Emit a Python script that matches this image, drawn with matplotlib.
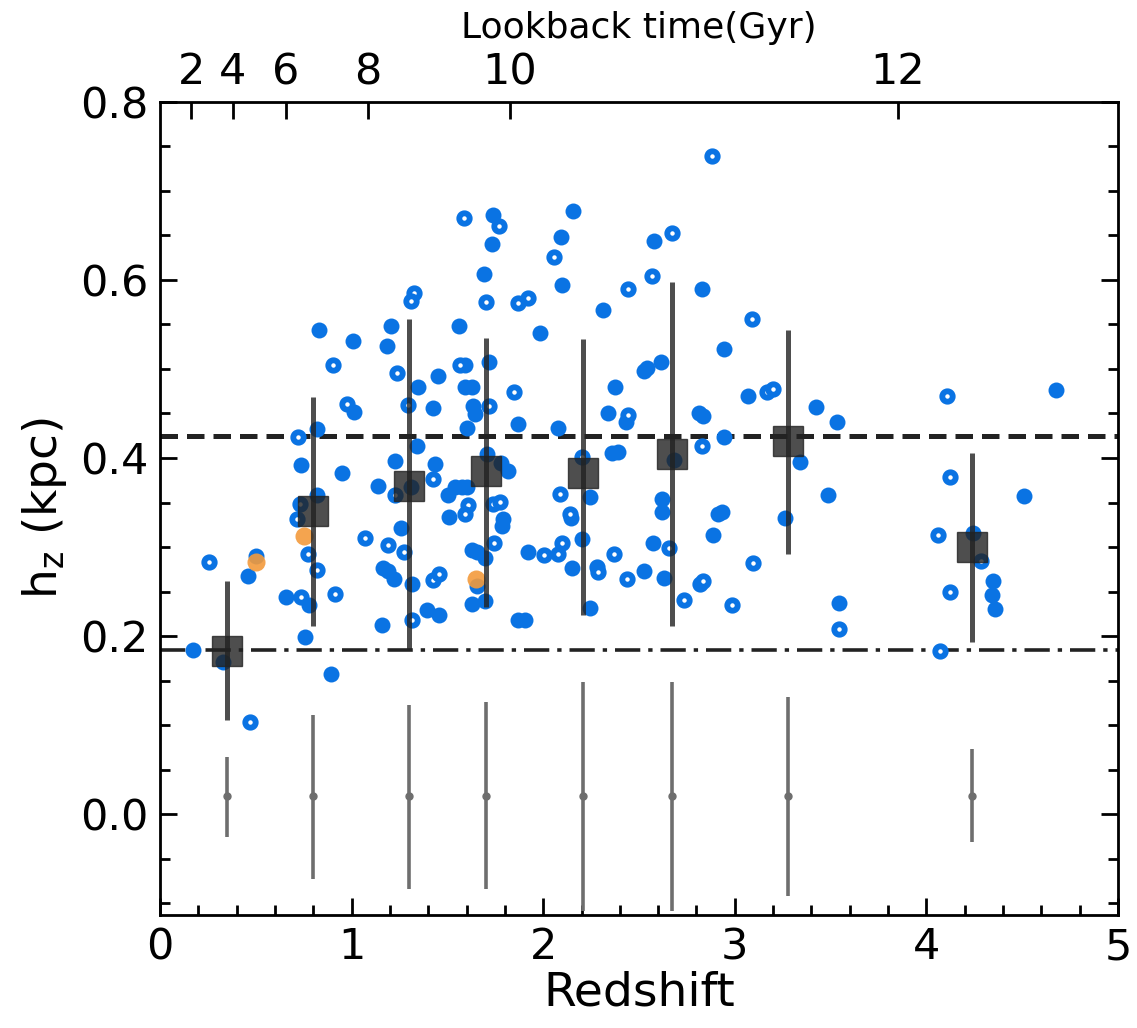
import numpy as np
import matplotlib.pyplot as plt
from matplotlib.ticker import MultipleLocator

# filled blue points (redshift, h_z)
z_fill = [0.172, 0.329, 0.459, 0.501, 0.658, 0.778, 0.757, 0.892, 0.819, 0.736,
          0.950, 0.819, 0.830, 1.007, 1.206, 1.185, 1.561, 1.451, 1.347, 1.592,
          1.628, 1.013, 1.425, 1.602, 1.634, 1.644, 1.738, 1.733, 2.156, 2.093,
          1.691, 2.098, 1.983, 2.312, 2.578, 2.829, 2.944, 3.069, 1.717, 1.592,
          1.868, 2.077, 2.375, 2.526, 2.542, 2.615, 2.338, 2.432, 2.813, 2.834,
          3.424, 3.533, 4.676, 1.707, 1.780, 1.816, 1.602, 1.790, 1.785, 1.628,
          1.654, 1.696, 1.654, 1.628, 1.696, 1.868, 1.905, 1.921, 2.150, 2.145,
          2.244, 2.203, 2.244, 2.359, 2.390, 2.526, 2.620, 2.620, 2.573, 2.630,
          2.683, 2.944, 2.912, 2.933, 2.886, 3.340, 3.486, 3.262, 3.544, 4.243,
          4.348, 4.342, 4.358, 4.509, 1.341, 1.227, 1.138, 1.310, 1.508, 1.258,
          1.164, 1.190, 1.221, 1.315, 1.394, 1.456, 1.159, 1.436, 1.503, 1.540,
          1.576]
h_fill = [0.184, 0.171, 0.267, 0.290, 0.244, 0.235, 0.199, 0.157, 0.433, 0.392,
          0.383, 0.358, 0.544, 0.531, 0.548, 0.526, 0.548, 0.492, 0.480, 0.480,
          0.480, 0.452, 0.456, 0.434, 0.458, 0.449, 0.673, 0.640, 0.677, 0.648,
          0.607, 0.594, 0.540, 0.566, 0.644, 0.590, 0.522, 0.470, 0.508, 0.505,
          0.438, 0.434, 0.480, 0.498, 0.501, 0.508, 0.450, 0.440, 0.451, 0.447,
          0.457, 0.440, 0.476, 0.404, 0.394, 0.385, 0.367, 0.331, 0.324, 0.297,
          0.294, 0.288, 0.256, 0.236, 0.239, 0.218, 0.218, 0.294, 0.277, 0.333,
          0.356, 0.309, 0.232, 0.406, 0.407, 0.273, 0.354, 0.339, 0.305, 0.265,
          0.398, 0.424, 0.337, 0.339, 0.314, 0.396, 0.358, 0.333, 0.237, 0.316,
          0.262, 0.246, 0.231, 0.357, 0.413, 0.397, 0.369, 0.367, 0.334, 0.321,
          0.276, 0.273, 0.264, 0.259, 0.229, 0.224, 0.212, 0.393, 0.359, 0.367,
          0.368]

# open blue points
z_open = [0.256, 0.470, 0.736, 0.720, 0.731, 0.715, 0.772, 0.819, 0.913, 1.587,
          1.326, 1.310, 0.903, 1.237, 1.566, 0.976, 1.294, 2.881, 1.769, 2.056,
          1.701, 1.868, 1.921, 2.443, 2.568, 2.672, 3.090, 3.168, 3.199, 1.848,
          1.717, 2.443, 4.108, 1.608, 1.592, 1.738, 1.775, 1.743, 2.004, 2.077,
          2.098, 2.088, 2.140, 2.203, 2.281, 2.286, 2.370, 2.437, 2.657, 2.735,
          2.818, 2.834, 2.829, 2.985, 3.095, 3.544, 4.123, 4.061, 4.285, 4.123,
          4.071, 1.425, 1.227, 1.070, 1.190, 1.273, 1.425, 1.456, 1.315]
h_open = [0.283, 0.104, 0.244, 0.424, 0.348, 0.332, 0.292, 0.274, 0.247, 0.670,
          0.585, 0.576, 0.505, 0.496, 0.504, 0.461, 0.460, 0.739, 0.661, 0.626,
          0.575, 0.574, 0.580, 0.590, 0.604, 0.653, 0.556, 0.474, 0.478, 0.474,
          0.458, 0.448, 0.470, 0.347, 0.337, 0.348, 0.351, 0.305, 0.291, 0.292,
          0.305, 0.360, 0.337, 0.401, 0.278, 0.272, 0.292, 0.264, 0.299, 0.241,
          0.258, 0.262, 0.414, 0.235, 0.282, 0.208, 0.379, 0.314, 0.284, 0.250,
          0.183, 0.376, 0.358, 0.310, 0.302, 0.294, 0.263, 0.270, 0.218]

# orange points
z_orange = [0.501, 0.752, 1.649]
h_orange = [0.283, 0.312, 0.264]

# binned medians
z_bin = [0.35, 0.80, 1.30, 1.70, 2.21, 2.67, 3.28, 4.24]
h_bin = [0.183, 0.341, 0.369, 0.385, 0.383, 0.405, 0.419, 0.300]
h_bin_hi = [0.262, 0.468, 0.556, 0.535, 0.534, 0.598, 0.544, 0.406]
h_bin_lo = [0.106, 0.211, 0.185, 0.233, 0.224, 0.211, 0.292, 0.193]

# typical errors
h_typ = 0.02
typ_hi = [0.064, 0.111, 0.123, 0.126, 0.148, 0.149, 0.132, 0.073]
typ_lo = [-0.026, -0.073, -0.084, -0.084, -0.109, -0.109, -0.092, -0.031]

h_dash = 0.425
h_dashdot = 0.185

lb_ticks_z = [0.162, 0.381, 0.658, 1.086, 1.827, 3.852]
lb_labels = ['2', '4', '6', '8', '10', '12']

blue = '#0a73e3'
orange = '#f39a3c'

fig = plt.figure(figsize=(11.37, 10.28), dpi=100)
ax = fig.add_axes([0.1407, 0.110, 0.8426, 0.791])

ax.axhline(h_dash, color='#222222', lw=3.6, ls=(0, (3.5, 1.8)), zorder=1)
ax.axhline(h_dashdot, color='#222222', lw=2.6, ls=(0, (7, 2.2, 1.2, 2.2)), zorder=1)

ax.plot(z_fill, h_fill, 'o', ms=11.5, mfc=blue, mec=blue, mew=0, ls='none', zorder=3)
ax.plot(z_open, h_open, 'o', ms=7.5, mfc='white', mec=blue, mew=4.2, ls='none', zorder=3)
ax.plot(z_orange, h_orange, 'o', ms=13, mfc=orange, mec=orange, mew=0, alpha=0.9,
        ls='none', zorder=4)

zb = np.array(z_bin)
hb = np.array(h_bin)
yerr = [hb - np.array(h_bin_lo), np.array(h_bin_hi) - hb]
ax.errorbar(zb, hb, yerr=yerr, fmt='s', ms=22, color='#222222', ecolor='#222222',
            elinewidth=3.6, capsize=0, alpha=0.8, zorder=5)

ty = np.full(len(z_bin), h_typ)
terr = [ty - np.array(typ_lo), np.array(typ_hi) - ty]
ax.errorbar(zb, ty, yerr=terr, fmt='o', ms=5, color='#6e6e6e', ecolor='#6e6e6e',
            elinewidth=2.6, capsize=0, zorder=2)

ax.set_xlim(0, 5)
ax.set_ylim(-0.113, 0.8)
ax.xaxis.set_major_locator(MultipleLocator(1))
ax.xaxis.set_minor_locator(MultipleLocator(0.2))
ax.yaxis.set_major_locator(MultipleLocator(0.2))
ax.yaxis.set_minor_locator(MultipleLocator(0.05))
ax.tick_params(which='both', direction='in', right=True, top=False, width=2,
               labelsize=31)
ax.tick_params(which='major', length=12)
ax.tick_params(which='minor', length=7)
ax.tick_params(axis='x', pad=8)
ax.tick_params(axis='y', pad=8)
for s in ax.spines.values():
    s.set_linewidth(2)

ax.set_xlabel('Redshift', fontsize=34, labelpad=2)
ax.set_ylabel(r'h$_{\rm z}$ (kpc)', fontsize=34, labelpad=8)

ax2 = ax.twiny()
ax2.set_xlim(ax.get_xlim())
ax2.set_xticks(lb_ticks_z)
ax2.set_xticklabels(lb_labels)
ax2.tick_params(direction='in', length=12, width=2, labelsize=31, pad=6)
ax2.set_xlabel('Lookback time(Gyr)', fontsize=26, labelpad=10)

fig.savefig('out.png', dpi=100)
